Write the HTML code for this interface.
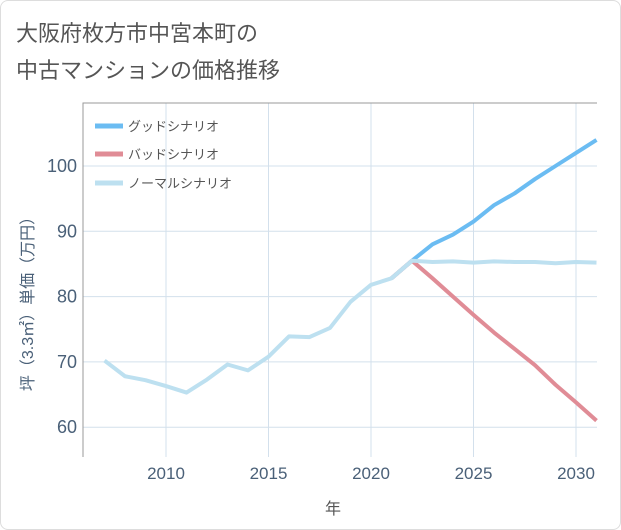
<!DOCTYPE html>
<html><head><meta charset="utf-8"><style>
body{margin:0;background:#fff;font-family:"Liberation Sans","Noto Sans CJK JP",sans-serif}
#wrap{position:absolute;left:0;top:0;width:619px;height:528px;border:1px solid #ddd;border-radius:8px;background:#fff}
</style></head><body>
<div id="wrap">
<svg width="621" height="530" style="position:absolute;left:-1px;top:-1px" id="svg">
<text x="16" y="41" font-size="22" fill="#555">大阪府枚方市中宮本町の</text>
<text x="16" y="78" font-size="22" fill="#555">中古マンションの価格推移</text>
<g id="grid"></g><g id="series"></g>
<text x="333" y="514" font-size="16" fill="#555" text-anchor="middle">年</text>
<text transform="translate(33,300) rotate(-90)" font-size="16" fill="#4a6078" text-anchor="middle">坪（3.3㎡）単価（万円）</text>
<g>
<line x1="95" y1="126" x2="123" y2="126" stroke="#6bbcf2" stroke-width="5"/>
<text x="128" y="131" font-size="13" fill="#555">グッドシナリオ</text>
<line x1="95" y1="154" x2="123" y2="154" stroke="#e08c96" stroke-width="5"/>
<text x="128" y="159" font-size="13" fill="#555">バッドシナリオ</text>
<line x1="95" y1="183" x2="123" y2="183" stroke="#bde0f0" stroke-width="5"/>
<text x="128" y="188" font-size="13" fill="#555">ノーマルシナリオ</text>
</g>
</svg></div>
<script>
const normalYears=[2007,2008,2009,2010,2011,2012,2013,2014,2015,2016,2017,2018,2019,2020,2021,2022,2023,2024,2025,2026,2027,2028,2029,2030,2031];
const normalVals=[70.2,67.8,67.2,66.3,65.3,67.3,69.6,68.7,70.8,73.9,73.8,75.2,79.2,81.8,82.8,85.5,85.3,85.4,85.2,85.4,85.3,85.3,85.1,85.3,85.2];
const futureYears=[2021,2022,2023,2024,2025,2026,2027,2028,2029,2030,2031];
const goodVals=[82.8,85.5,88,89.5,91.5,94,95.8,98,100,102,104];
const badVals=[82.8,85.5,82.8,80,77.2,74.5,72,69.5,66.5,63.8,61];
const xTicks=[2010,2015,2020,2025,2030];
const yTicks=[60,70,80,90,100];
const L=83,R=597,T=103,B=457;
const X=y=>166+(y-2010)*20.5;
const Y=v=>166+(100-v)*6.53;
const NS="http://www.w3.org/2000/svg";
const g=document.getElementById('grid'),s=document.getElementById('series');
function el(p,tag,a){const e=document.createElementNS(NS,tag);for(const k in a)e.setAttribute(k,a[k]);p.appendChild(e);return e;}
xTicks.forEach(t=>{const l=el(g,'line',{x1:X(t),x2:X(t),y1:T,y2:B,stroke:'#d3e0ec'});


const tx=el(g,'text',{x:X(t),y:479,'font-size':17,fill:'#4a6078','text-anchor':'middle'});tx.textContent=t;

});
yTicks.forEach(t=>{const l=el(g,'line',{x1:L,x2:R,y1:Y(t),y2:Y(t),stroke:'#d3e0ec'});


const tx=el(g,'text',{x:77,y:Y(t)+6,'font-size':18,fill:'#4a6078','text-anchor':'end'});tx.textContent=t;

});
const box=el(g,'path',{d:`M${L},${B}V${T}H${R}`,stroke:'#999',fill:'none'});


function line(xs,vs,c,n){const p=el(s,'polyline',{points:xs.map((x,i)=>X(x)+','+Y(vs[i])).join(' '),fill:'none',stroke:c,'stroke-width':4,'stroke-linejoin':'round'});

}
line(futureYears,goodVals,'#6bbcf2','good-scenario-line');
line(futureYears,badVals,'#e08c96','bad-scenario-line');
line(normalYears,normalVals,'#bde0f0','normal-scenario-line');
</script></body></html>
